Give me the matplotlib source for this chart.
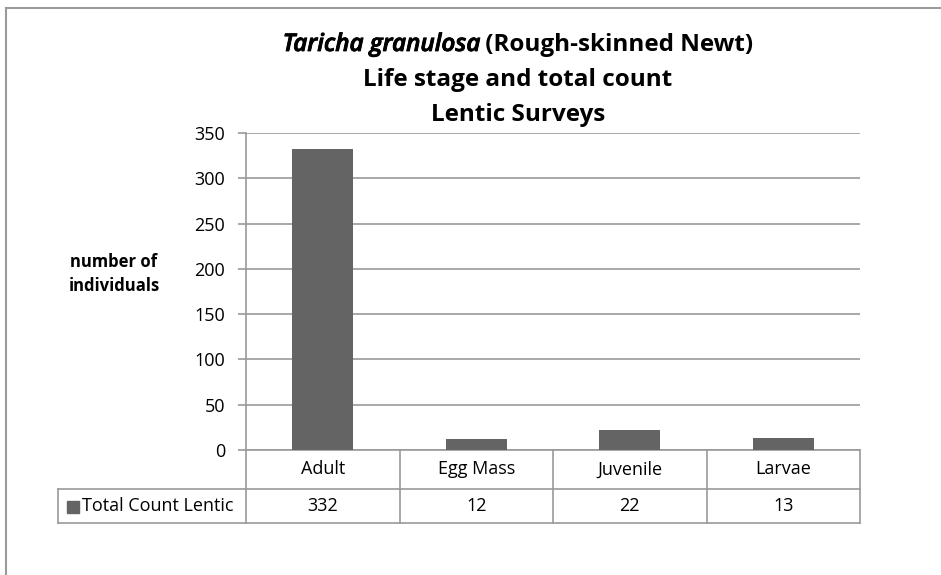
import numpy as np
import matplotlib
matplotlib.use('Agg')
from matplotlib import pyplot as plt
from matplotlib import patheffects
from matplotlib.lines import Line2D
from matplotlib.patches import Rectangle

categories = ['Adult', 'Egg Mass', 'Juvenile', 'Larvae']
counts = [332, 12, 22, 13]
series_name = 'Total Count Lentic'
yticks = [0, 50, 100, 150, 200, 250, 300, 350]

W, H = 941, 575
bar_color = '#646464'
line_color = '#9a9a9a'
font = 'Open Sans'

plt.rcParams['font.family'] = [font, 'DejaVu Sans']

fig = plt.figure(figsize=(W / 100, H / 100), dpi=100)


def px(x, y):
    # pixel coords (from top-left) -> figure fraction
    return x / W, 1 - y / H


# outer chart frame (partly cropped in the reference)
fig.add_artist(Line2D([6 / W, 1.0], [1 - 8 / H, 1 - 8 / H], color=line_color, lw=1.5))
fig.add_artist(Line2D([6 / W, 6 / W], [0, 1 - 8 / H], color=line_color, lw=1.5))

left, right, top, bottom = 246, 860, 133, 450
ax = fig.add_axes([left / W, 1 - bottom / H, (right - left) / W, (bottom - top) / H])

x = np.arange(len(categories))
ax.bar(x, counts, width=0.4, color=bar_color, zorder=3)
ax.set_xlim(-0.5, len(categories) - 0.5)
ax.set_ylim(0, 350)
ax.set_yticks(yticks)
ax.set_yticklabels([str(t) for t in yticks], fontsize=13)
ax.yaxis.grid(True, color=line_color, lw=1.2, zorder=0)
ax.tick_params(axis='y', length=6, color=line_color, width=1.2, pad=9)
ax.tick_params(axis='x', length=0, labelbottom=False)
for s in ['top', 'right']:
    ax.spines[s].set_visible(False)
for s in ['left', 'bottom']:
    ax.spines[s].set_color(line_color)
    ax.spines[s].set_linewidth(1.2)

fig.text(*px(114, 274), 'number of\nindividuals', ha='center', va='center',
         fontsize=12, fontweight='bold', linespacing=1.4)

# title, first line mixes italic and upright
# (no bold italic face installed, so the italic part gets a thin stroke)
title_size = 17.5
cx_title = 518
r = fig.canvas.get_renderer()
ital = fig.text(0, 0, 'Taricha granulosa', fontsize=title_size, fontweight='semibold',
                style='italic', va='center',
                path_effects=[patheffects.withStroke(linewidth=0.6, foreground='black')])
rest = fig.text(0, 0, ' (Rough-skinned Newt)', fontsize=title_size, fontweight='bold',
                va='center')
w1 = ital.get_window_extent(r).width
w2 = rest.get_window_extent(r).width
x0 = cx_title - (w1 + w2) / 2
ital.set_position(px(x0, 45))
rest.set_position(px(x0 + w1, 45))
fig.text(*px(cx_title, 80), 'Life stage and total count', ha='center', va='center',
         fontsize=title_size, fontweight='bold')
fig.text(*px(cx_title, 115), 'Lentic Surveys', ha='center', va='center',
         fontsize=title_size, fontweight='bold')

# data table under the axis
row1, row2 = 489, 523
legend_left = 58
bounds = [ax.transData.transform((b, 0))[0] for b in np.arange(-0.5, len(categories), 1.0)]
for b in bounds:
    fig.add_artist(Line2D([b / W, b / W], [1 - bottom / H, 1 - row2 / H], color=line_color, lw=1.2))
fig.add_artist(Line2D([legend_left / W, right / W], [1 - row1 / H, 1 - row1 / H], color=line_color, lw=1.2))
fig.add_artist(Line2D([legend_left / W, right / W], [1 - row2 / H, 1 - row2 / H], color=line_color, lw=1.2))
fig.add_artist(Line2D([legend_left / W, legend_left / W], [1 - row1 / H, 1 - row2 / H], color=line_color, lw=1.2))

for i, (c, v) in enumerate(zip(categories, counts)):
    cx = ax.transData.transform((i, 0))[0]
    fig.text(*px(cx, (bottom + row1) / 2), c, ha='center', va='center', fontsize=13)
    fig.text(*px(cx, (row1 + row2) / 2), str(v), ha='center', va='center', fontsize=13)

fig.add_artist(Rectangle(px(67, 513), 12 / W, 12 / H, color=bar_color))
fig.text(*px(82, (row1 + row2) / 2), series_name, ha='left', va='center', fontsize=13)

fig.savefig('out.png', dpi=100)
